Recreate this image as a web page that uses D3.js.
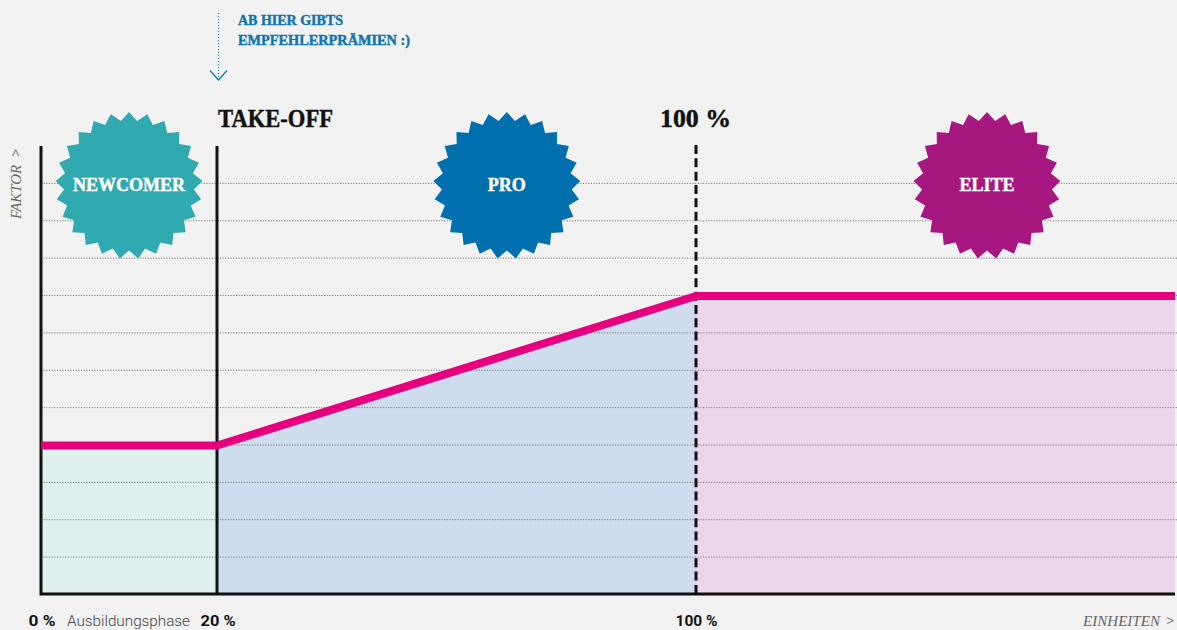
<!DOCTYPE html>
<html>
<head>
<meta charset="utf-8">
<script src="https://d3js.org/d3.v7.min.js"></script>
<style>
  html, body { margin: 0; padding: 0; background: #f2f2f2; overflow: hidden; }
  svg { display: block; }
  .slab { font-family: "Liberation Serif", serif; font-weight: 700; stroke-width: 0.45px; paint-order: stroke; }
  .thin { font-family: Roboto, sans-serif; font-weight: 300; }
  .thinslab { font-family: "Liberation Serif", serif; font-style: italic; }
  .bold { font-family: Roboto, sans-serif; font-weight: 700; }
</style>
</head>
<body>
<script>
// x stops are in percent of units, 180 is only where the picture runs out
const xStops = [0, 20, 100, 180]
const xTickValues = [0, 20, 100]
const xTickWidths = [27, 35, 42]
const gridValues = [1, 2, 3, 4, 5, 6, 7, 8, 9, 10, 11]
const factorLine = [[0, 4], [20, 4], [100, 8], [180, 8]]
const phases = ['NEWCOMER', 'PRO', 'ELITE']
const phaseCentres = [10, 68.4, 148.6]
const phaseWidths = [112, 38, 55]
const phaseColours = ['#30aab0', '#006fad', '#a6177f']
const phaseTints = ['#dff0ee', '#cddcee', '#ecd7ea']
const phaseRanges = [[0, 20], [20, 100], [100, 180]]
const noteLines = ['AB HIER GIBTS', 'EMPFEHLERPRÄMIEN :)']
const noteWidths = [105, 172]

const width = 1177
const height = 630

const svg = d3.select(document.body).append('svg')
  .attr('width', width)
  .attr('height', height)
  .attr('xmlns', 'http://www.w3.org/2000/svg')

// the first 20 % are stretched in the original, so the scale is piecewise
const x = d3.scaleLinear(xStops, [41, 217, 696, 1175])
const y = d3.scaleLinear([0, 12], [594, 145.5])

// squeezes a label to the width it has in the reference
function fit(sel, w) {
  return sel.attr('textLength', w).attr('lengthAdjust', 'spacingAndGlyphs')
}

// tinted area under the line, one per phase
const areaGen = d3.area().x(d => x(d[0])).y0(y(0)).y1(d => y(d[1]) + 1)

function lineAt(xVal) {
  return factorLine.find(d => d[0] === xVal)
}

phaseRanges.forEach((r, i) => {
  svg.append('path')
    .attr('d', areaGen([lineAt(r[0]), lineAt(r[1])]))
    .attr('fill', phaseTints[i])
})

// dotted grid
const grid = svg.append('g')
  .attr('transform', `translate(${x(0)},0)`)
  .call(d3.axisLeft(y).tickValues(gridValues).tickFormat('').tickSize(-(width - x(0))))
grid.select('.domain').remove()
grid.selectAll('line')
  .attr('stroke', '#666')
  .attr('stroke-width', 1)
  .attr('stroke-dasharray', '1 1.67')

// dashed 100 % marker
svg.append('line')
  .attr('x1', x(100)).attr('x2', x(100))
  .attr('y1', 145).attr('y2', y(0))
  .attr('stroke', '#111')
  .attr('stroke-width', 3)
  .attr('stroke-dasharray', '9 4.33')

// solid verticals and baseline
svg.append('path')
  .attr('d', `M${x(0)},146V${y(0)}H${x(180)}`)
  .attr('fill', 'none')
  .attr('stroke', '#111')
  .attr('stroke-width', 3)
svg.append('line')
  .attr('x1', x(20)).attr('x2', x(20))
  .attr('y1', 146).attr('y2', y(0))
  .attr('stroke', '#111')
  .attr('stroke-width', 3)

// the factor line
svg.append('path')
  .attr('d', d3.line().x(d => x(d[0])).y(d => y(d[1]) + 1)(factorLine))
  .attr('fill', 'none')
  .attr('stroke', '#e6007e')
  .attr('stroke-width', 8)
  .attr('stroke-linejoin', 'round')

// star badges
const starPoints = []
for (let i = 0; i < 50; i++) {
  starPoints.push([i * Math.PI / 25, i % 2 === 0 ? 73.5 : 65])
}
const starGen = d3.lineRadial().curve(d3.curveLinearClosed)

phases.forEach((name, i) => {
  const g = svg.append('g')
    .attr('transform', `translate(${x(phaseCentres[i])},185.5)`)
  g.append('path')
    .attr('d', starGen(starPoints))
    .attr('fill', phaseColours[i])
  g.append('text')
    .attr('class', 'slab')
    .attr('text-anchor', 'middle')
    .attr('y', 5.5)
    .attr('font-size', 18)
    .attr('fill', '#fff')
    .attr('stroke', '#fff')
    .text(name)
    .call(fit, phaseWidths[i])
})

// headings above the chart
svg.append('text')
  .attr('class', 'slab')
  .attr('x', 218).attr('y', 127)
  .attr('font-size', 25)
  .attr('fill', '#111')
  .attr('stroke', '#111')
  .text('TAKE-OFF')
  .call(fit, 115)
svg.append('text')
  .attr('class', 'slab')
  .attr('x', 660).attr('y', 127)
  .attr('font-size', 25)
  .attr('fill', '#111')
  .attr('stroke', '#111')
  .text('100 %')
  .call(fit, 71)

// note with dotted arrow
noteLines.forEach((line, i) => {
  svg.append('text')
    .attr('class', 'slab')
    .attr('x', 238)
    .attr('y', 25 + i * 20)
    .attr('font-size', 14)
    .attr('fill', '#0f75b0')
    .attr('stroke', '#0f75b0')
    .text(line)
    .call(fit, noteWidths[i])
})
svg.append('line')
  .attr('x1', x(20) + 1.5).attr('x2', x(20) + 1.5)
  .attr('y1', 13).attr('y2', 79)
  .attr('stroke', '#0f75b0')
  .attr('stroke-dasharray', '1 2')
svg.append('path')
  .attr('d', 'M210,70.5L218.5,80L227,70.5')
  .attr('fill', 'none')
  .attr('stroke', '#0f75b0')
  .attr('stroke-width', 1.2)

// x labels
const xAxis = svg.append('g')
  .attr('transform', `translate(0,${y(0)})`)
  .call(d3.axisBottom(x).tickValues(xTickValues).tickFormat(d => d + ' %').tickSize(0))
xAxis.select('.domain').remove()
xAxis.selectAll('text')
  .attr('class', 'bold')
  .attr('font-size', 15)
  .attr('fill', '#111')
  .attr('y', 32)
  .attr('dy', 0)
  .style('font-family', 'Roboto, sans-serif')
  .style('font-weight', 700)
  .each(function (d, i) {
    d3.select(this).call(fit, xTickWidths[i])
  })
xAxis.selectAll('text').attr('x', (d, i) => [0.5, 0.5, 0][i])

fit(svg.append('text')
  .attr('class', 'thin')
  .attr('x', 67).attr('y', 626)
  .attr('font-size', 15)
  .attr('fill', '#444')
  .text('Ausbildungsphase'), 123)

fit(svg.append('text')
  .attr('class', 'thinslab')
  .attr('x', 1083).attr('y', 626)
  .attr('font-size', 15)
  .attr('fill', '#666')
  .text('EINHEITEN'), 77)
svg.append('text')
  .attr('class', 'thin')
  .attr('x', 1166).attr('y', 626)
  .attr('font-size', 16)
  .attr('fill', '#666')
  .text('>')

fit(svg.append('text')
  .attr('class', 'thinslab')
  .attr('transform', 'translate(21,219) rotate(-90)')
  .attr('font-size', 15)
  .attr('fill', '#666')
  .text('FAKTOR'), 54)
svg.append('text')
  .attr('class', 'thin')
  .attr('transform', 'translate(21,157) rotate(-90)')
  .attr('font-size', 16)
  .attr('fill', '#666')
  .text('>')
</script>
</body>
</html>
